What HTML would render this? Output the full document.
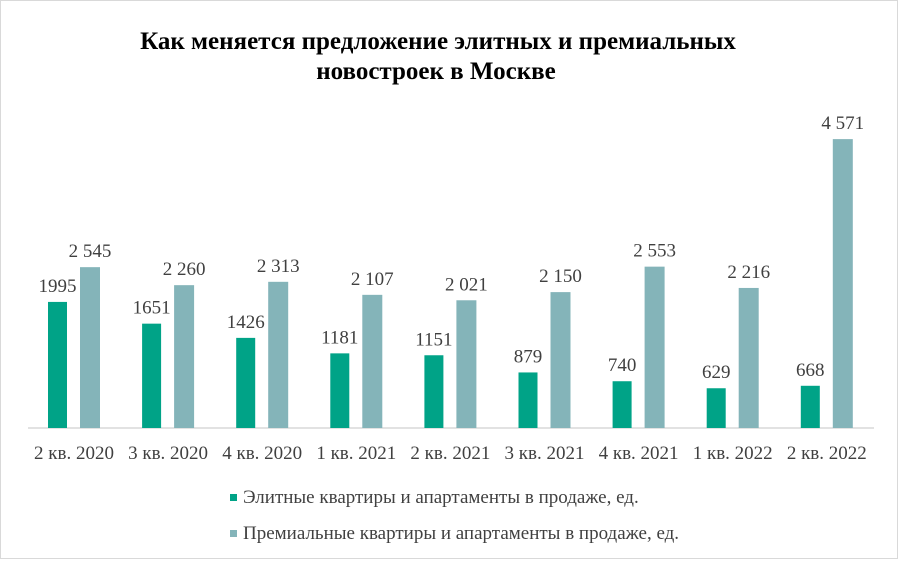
<!DOCTYPE html><html><head><meta charset="utf-8"><style>
body{margin:0;background:#fff}
</style></head><body>
<svg width="898" height="559" xmlns="http://www.w3.org/2000/svg" font-family="Liberation Serif, serif">
<rect x="0.5" y="0.5" width="897" height="558" fill="#fff" stroke="#d9d9d9"/>
<text x="438" y="49" text-anchor="middle" font-size="25" font-weight="bold" fill="#000">Как меняется предложение элитных и премиальных</text>
<text x="436" y="79" text-anchor="middle" font-size="25" font-weight="bold" fill="#000">новостроек  в Москве</text>
<line x1="28" y1="428" x2="874" y2="428" stroke="#d9d9d9" stroke-width="1.5"/>
<g font-size="19" fill="#404040" text-anchor="middle" id="g"></g>
<rect x="230" y="494" width="7" height="7" fill="#00A387"/>
<text x="243" y="503" font-size="19" fill="#404040">Элитные квартиры и апартаменты в продаже, ед.</text>
<rect x="230" y="530" width="7" height="7" fill="#84B4B9"/>
<text x="243" y="539" font-size="19" fill="#404040">Премиальные квартиры и апартаменты в продаже, ед.</text>
</svg>
<script>
var a=[1995,1651,1426,1181,1151,879,740,629,668],b=[2545,2260,2313,2107,2021,2150,2553,2216,4571];
var la=["1995","1651","1426","1181","1151","879","740","629","668"],lb=["2 545","2 260","2 313","2 107","2 021","2 150","2 553","2 216","4 571"];
var c=["2 кв. 2020","3 кв. 2020","4 кв. 2020","1 кв. 2021","2 кв. 2021","3 кв. 2021","4 кв. 2021","1 кв. 2022","2 кв. 2022"];
var s=0.0632,h="";
for(var i=0;i<9;i++){var x=48+i*94.1,ha=a[i]*s,hb=b[i]*s;
h+='<rect x="'+x+'" y="'+(428-ha)+'" width="19" height="'+ha+'" fill="#00A387"/>';
h+='<rect x="'+(x+32)+'" y="'+(428-hb)+'" width="20" height="'+hb+'" fill="#84B4B9"/>';
h+='<text x="'+(x+9.5)+'" y="'+(428-ha-10)+'">'+la[i]+'</text>';
h+='<text x="'+(x+42)+'" y="'+(428-hb-10)+'">'+lb[i]+'</text>';
h+='<text x="'+(x+26)+'" y="459">'+c[i]+'</text>';}
document.getElementById('g').innerHTML=h;
</script>
</body></html>
